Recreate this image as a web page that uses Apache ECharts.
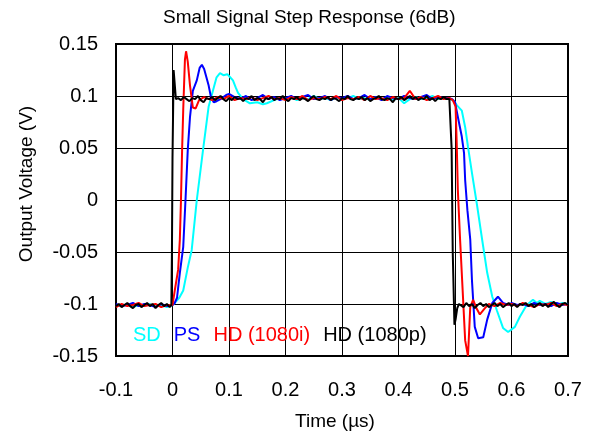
<!DOCTYPE html>
<html>
<head>
<meta charset="utf-8">
<title>Small Signal Step Response (6dB)</title>
<script src="https://cdn.jsdelivr.net/npm/echarts@6/dist/echarts.min.js"></script>
<style>
    html, body { margin: 0; padding: 0; background: #fff; }
    #chart { width: 590px; height: 436px; }
</style>
</head>
<body>
<div id="chart"></div>
<script>
    // axis ticks
    var xTicks = [-0.1, 0.7, 0.1];
    var yTicks = [-0.15, 0.15, 0.05];

    var seriesNames = ['SD', 'PS', 'HD (1080i)', 'HD (1080p)'];
    var seriesColors = ['#00ffff', '#0000ff', '#ff0000', '#000000'];

    // [time us, volts]
    var sdData = [
        [-0.1, -0.101], [-0.09, -0.102], [-0.08, -0.1], [-0.07, -0.103], [-0.06, -0.101], [-0.05, -0.102],
        [-0.04, -0.1], [-0.03, -0.102], [-0.02, -0.101], [-0.01, -0.103], [0, -0.101],
        [0.004, -0.099], [0.012, -0.094], [0.019, -0.087], [0.027, -0.065], [0.034, -0.048], [0.043, 0],
        [0.054, 0.048], [0.064, 0.09], [0.072, 0.106], [0.078, 0.118], [0.084, 0.122], [0.09, 0.12],
        [0.097, 0.121], [0.102, 0.118], [0.107, 0.115], [0.112, 0.108], [0.116, 0.103], [0.125, 0.097],
        [0.137, 0.093], [0.15, 0.094], [0.16, 0.092], [0.167, 0.093], [0.18, 0.096], [0.19, 0.098],
        [0.2, 0.097], [0.21, 0.099], [0.22, 0.096], [0.23, 0.098], [0.24, 0.097], [0.25, 0.1],
        [0.26, 0.097], [0.27, 0.098], [0.28, 0.096], [0.29, 0.099], [0.3, 0.097], [0.31, 0.098],
        [0.32, 0.1], [0.33, 0.097], [0.34, 0.098], [0.35, 0.096], [0.36, 0.099], [0.37, 0.097],
        [0.38, 0.098], [0.39, 0.096], [0.4, 0.098], [0.41, 0.093], [0.42, 0.097], [0.43, 0.099],
        [0.44, 0.097], [0.45, 0.098], [0.46, 0.1], [0.47, 0.097], [0.48, 0.098], [0.49, 0.097], [0.497, 0.096],
        [0.5035, 0.091], [0.512, 0.086], [0.518, 0.07], [0.523, 0.051], [0.53, 0.026], [0.539, -0.005],
        [0.548, -0.038], [0.557, -0.07], [0.566, -0.093], [0.574, -0.106], [0.585, -0.123], [0.594, -0.127],
        [0.606, -0.122], [0.615, -0.112], [0.627, -0.101], [0.638, -0.096], [0.645, -0.099], [0.65, -0.097],
        [0.66, -0.1], [0.67, -0.098], [0.68, -0.101], [0.69, -0.099], [0.7, -0.1]
    ];

    var psData = [
        [-0.1, -0.1], [-0.09, -0.102], [-0.08, -0.101], [-0.07, -0.099], [-0.06, -0.102], [-0.05, -0.1],
        [-0.04, -0.101], [-0.03, -0.103], [-0.02, -0.1], [-0.01, -0.102], [0, -0.101],
        [0.004, -0.099], [0.008, -0.094], [0.013, -0.07], [0.019, -0.045], [0.023, 0], [0.027, 0.048],
        [0.031, 0.08], [0.036, 0.105], [0.043, 0.115], [0.048, 0.127], [0.052, 0.13], [0.056, 0.126],
        [0.06, 0.118], [0.064, 0.11], [0.068, 0.099], [0.073, 0.094], [0.078, 0.095], [0.085, 0.097],
        [0.095, 0.101], [0.1, 0.102], [0.11, 0.099], [0.12, 0.097], [0.13, 0.1], [0.14, 0.096],
        [0.15, 0.098], [0.16, 0.101], [0.17, 0.097], [0.18, 0.099], [0.19, 0.096], [0.2, 0.098],
        [0.21, 0.1], [0.22, 0.097], [0.23, 0.099], [0.24, 0.101], [0.25, 0.097], [0.26, 0.098],
        [0.27, 0.1], [0.28, 0.096], [0.29, 0.099], [0.3, 0.098], [0.31, 0.1], [0.32, 0.097],
        [0.33, 0.098], [0.34, 0.101], [0.35, 0.097], [0.36, 0.099], [0.37, 0.096], [0.38, 0.1],
        [0.39, 0.098], [0.4, 0.097], [0.41, 0.1], [0.42, 0.098], [0.43, 0.097], [0.44, 0.099],
        [0.45, 0.101], [0.46, 0.097], [0.47, 0.099], [0.48, 0.098], [0.49, 0.098], [0.495, 0.097],
        [0.5, 0.094], [0.505, 0.08], [0.512, 0.061], [0.516, 0.045], [0.518, 0.019], [0.522, -0.01],
        [0.527, -0.038], [0.53, -0.077], [0.535, -0.122], [0.541, -0.133], [0.55, -0.132], [0.557, -0.115],
        [0.566, -0.099], [0.576, -0.093], [0.585, -0.099], [0.595, -0.101], [0.6, -0.099], [0.61, -0.101],
        [0.62, -0.1], [0.63, -0.102], [0.64, -0.099], [0.65, -0.101], [0.66, -0.1], [0.67, -0.102],
        [0.68, -0.099], [0.69, -0.101], [0.7, -0.1]
    ];

    var hdiData = [
        [-0.1, -0.103], [-0.09, -0.1], [-0.08, -0.102], [-0.07, -0.101], [-0.06, -0.099], [-0.05, -0.102],
        [-0.04, -0.101], [-0.03, -0.1], [-0.02, -0.103], [-0.01, -0.101], [0, -0.101],
        [0.004, -0.087], [0.01, -0.067], [0.013, -0.038], [0.015, 0], [0.017, 0.048], [0.019, 0.087],
        [0.022, 0.135], [0.024, 0.143], [0.027, 0.133], [0.031, 0.11], [0.036, 0.089], [0.041, 0.088],
        [0.047, 0.096], [0.056, 0.099], [0.06, 0.098], [0.07, 0.096], [0.08, 0.099], [0.09, 0.097],
        [0.1, 0.1], [0.11, 0.096], [0.12, 0.098], [0.13, 0.097], [0.14, 0.099], [0.15, 0.096],
        [0.16, 0.098], [0.17, 0.1], [0.18, 0.097], [0.19, 0.098], [0.2, 0.096], [0.21, 0.099],
        [0.22, 0.097], [0.23, 0.1], [0.24, 0.096], [0.25, 0.098], [0.26, 0.097], [0.27, 0.099],
        [0.28, 0.097], [0.29, 0.1], [0.3, 0.096], [0.31, 0.098], [0.32, 0.097], [0.33, 0.099],
        [0.34, 0.096], [0.35, 0.1], [0.36, 0.097], [0.37, 0.098], [0.38, 0.096], [0.39, 0.099],
        [0.4, 0.097], [0.41, 0.098], [0.42, 0.105], [0.43, 0.097], [0.44, 0.099], [0.45, 0.096],
        [0.46, 0.098], [0.47, 0.1], [0.48, 0.097], [0.49, 0.098], [0.496, 0.096],
        [0.501, 0.09], [0.503, 0.055], [0.505, 0.01], [0.509, -0.038], [0.518, -0.135], [0.523, -0.15],
        [0.527, -0.103], [0.532, -0.096], [0.538, -0.104], [0.544, -0.11], [0.553, -0.104], [0.56, -0.1],
        [0.57, -0.102], [0.58, -0.099], [0.59, -0.101], [0.6, -0.1], [0.61, -0.102], [0.62, -0.099],
        [0.63, -0.101], [0.64, -0.103], [0.65, -0.1], [0.66, -0.101], [0.67, -0.099], [0.68, -0.102],
        [0.69, -0.1], [0.7, -0.101]
    ];

    var hdpData = [
        [-0.1, -0.102], [-0.095, -0.1], [-0.09, -0.103], [-0.085, -0.101], [-0.08, -0.099], [-0.075, -0.102],
        [-0.07, -0.104], [-0.065, -0.101], [-0.06, -0.1], [-0.055, -0.103], [-0.05, -0.101], [-0.045, -0.099],
        [-0.04, -0.102], [-0.035, -0.1], [-0.03, -0.104], [-0.025, -0.101], [-0.02, -0.099], [-0.015, -0.102],
        [-0.01, -0.1], [-0.005, -0.103], [-0.002, -0.101],
        [-0.001, -0.05], [0, 0.04], [0.002, 0.125], [0.003, 0.124], [0.006, 0.097],
        [0.01, 0.098], [0.015, 0.096], [0.02, 0.099], [0.025, 0.097], [0.03, 0.095], [0.035, 0.098],
        [0.04, 0.097], [0.045, 0.1], [0.05, 0.096], [0.055, 0.094], [0.06, 0.098], [0.065, 0.097],
        [0.07, 0.099], [0.075, 0.096], [0.08, 0.098], [0.085, 0.1], [0.09, 0.097], [0.095, 0.095],
        [0.1, 0.098], [0.105, 0.096], [0.11, 0.099], [0.115, 0.097], [0.12, 0.098], [0.125, 0.095],
        [0.13, 0.098], [0.135, 0.097], [0.14, 0.1], [0.145, 0.096], [0.15, 0.098], [0.155, 0.097],
        [0.16, 0.094], [0.165, 0.098], [0.17, 0.097], [0.175, 0.099], [0.18, 0.096], [0.185, 0.098],
        [0.19, 0.097], [0.195, 0.1], [0.2, 0.097], [0.205, 0.095], [0.21, 0.098], [0.215, 0.097],
        [0.22, 0.099], [0.225, 0.096], [0.23, 0.098], [0.235, 0.097], [0.24, 0.095], [0.245, 0.098],
        [0.25, 0.1], [0.255, 0.097], [0.26, 0.096], [0.265, 0.098], [0.27, 0.097], [0.275, 0.099],
        [0.28, 0.096], [0.285, 0.098], [0.29, 0.097], [0.295, 0.095], [0.3, 0.098], [0.305, 0.097],
        [0.31, 0.1], [0.315, 0.097], [0.32, 0.096], [0.325, 0.098], [0.33, 0.097], [0.335, 0.099],
        [0.34, 0.096], [0.345, 0.098], [0.35, 0.095], [0.355, 0.097], [0.36, 0.098], [0.365, 0.1],
        [0.37, 0.097], [0.375, 0.096], [0.38, 0.098], [0.385, 0.097], [0.39, 0.094], [0.395, 0.098],
        [0.4, 0.097], [0.405, 0.099], [0.41, 0.096], [0.415, 0.098], [0.42, 0.1], [0.425, 0.097],
        [0.43, 0.099], [0.435, 0.096], [0.44, 0.098], [0.445, 0.097], [0.45, 0.1], [0.455, 0.096],
        [0.46, 0.098], [0.465, 0.095], [0.47, 0.098], [0.475, 0.097], [0.48, 0.099], [0.485, 0.097],
        [0.49, 0.097], [0.492, 0.096],
        [0.494, 0.05], [0.496, -0.05], [0.499, -0.12], [0.501, -0.115], [0.504, -0.104], [0.507, -0.1],
        [0.51, -0.1], [0.515, -0.103], [0.52, -0.099], [0.525, -0.102], [0.53, -0.1], [0.535, -0.104],
        [0.54, -0.101], [0.545, -0.099], [0.55, -0.102], [0.555, -0.1], [0.56, -0.103], [0.565, -0.101],
        [0.57, -0.099], [0.575, -0.102], [0.58, -0.1], [0.585, -0.103], [0.59, -0.101], [0.595, -0.099],
        [0.6, -0.102], [0.605, -0.1], [0.61, -0.103], [0.615, -0.1], [0.62, -0.101], [0.625, -0.099],
        [0.63, -0.102], [0.635, -0.1], [0.64, -0.103], [0.645, -0.101], [0.65, -0.099], [0.655, -0.102],
        [0.66, -0.1], [0.665, -0.103], [0.67, -0.1], [0.675, -0.098], [0.68, -0.101], [0.685, -0.103],
        [0.69, -0.1], [0.695, -0.099], [0.7, -0.101]
    ];

    var allData = [sdData, psData, hdiData, hdpData];
    var fontName = '"Liberation Sans", Arial, sans-serif';

    var chart = echarts.init(document.getElementById('chart'));

    var series = seriesNames.map(function (name, i) {
        return {
            name: name,
            type: 'line',
            data: allData[i],
            symbol: 'none',
            smooth: false,
            lineStyle: { color: seriesColors[i], width: 2 },
            itemStyle: { color: seriesColors[i] },
            z: 3 + i
        };
    });

    chart.setOption({
        animation: false,
        backgroundColor: '#fff',
        textStyle: { fontFamily: fontName },
        title: {
            text: 'Small Signal Step Response (6dB)',
            left: 158,
            top: 3,
            textStyle: { fontSize: 19, fontWeight: 'normal', color: '#000', fontFamily: fontName }
        },
        legend: {
            left: 123,
            top: 320,
            itemGap: 8,
            itemWidth: 0,
            itemHeight: 0,
            selectedMode: false,
            data: seriesNames.map(function (name, i) {
                return { name: name, icon: 'none', textStyle: { color: seriesColors[i] } };
            }),
            textStyle: { fontSize: 20, fontFamily: fontName }
        },
        grid: {
            left: 116,
            right: 22,
            top: 44,
            bottom: 80,
            show: true,
            borderColor: '#000',
            borderWidth: 2,
            containLabel: false
        },
        xAxis: {
            type: 'value',
            min: xTicks[0],
            max: xTicks[1],
            interval: xTicks[2],
            name: 'Time (µs)',
            nameLocation: 'middle',
            nameGap: 56,
            nameTextStyle: { fontSize: 19, color: '#000', padding: [0, 14, 0, 0] },
            axisLine: { show: false },
            axisTick: { show: false },
            axisLabel: {
                margin: 24,
                fontSize: 20,
                color: '#000',
                formatter: function (v) { return String(Math.round(v * 10) / 10); }
            },
            splitLine: { show: true, lineStyle: { color: '#000', width: 1 } }
        },
        yAxis: {
            type: 'value',
            min: yTicks[0],
            max: yTicks[1],
            interval: yTicks[2],
            name: 'Output Voltage (V)',
            nameLocation: 'middle',
            nameGap: 80,
            nameTextStyle: { fontSize: 19, color: '#000', padding: [0, 0, 0, 32] },
            axisLine: { show: false },
            axisTick: { show: false },
            axisLabel: {
                margin: 18,
                fontSize: 20,
                color: '#000',
                formatter: function (v) { return String(Math.round(v * 100) / 100); }
            },
            splitLine: { show: true, lineStyle: { color: '#000', width: 1 } }
        },
        series: series
    });
</script>
</body>
</html>
